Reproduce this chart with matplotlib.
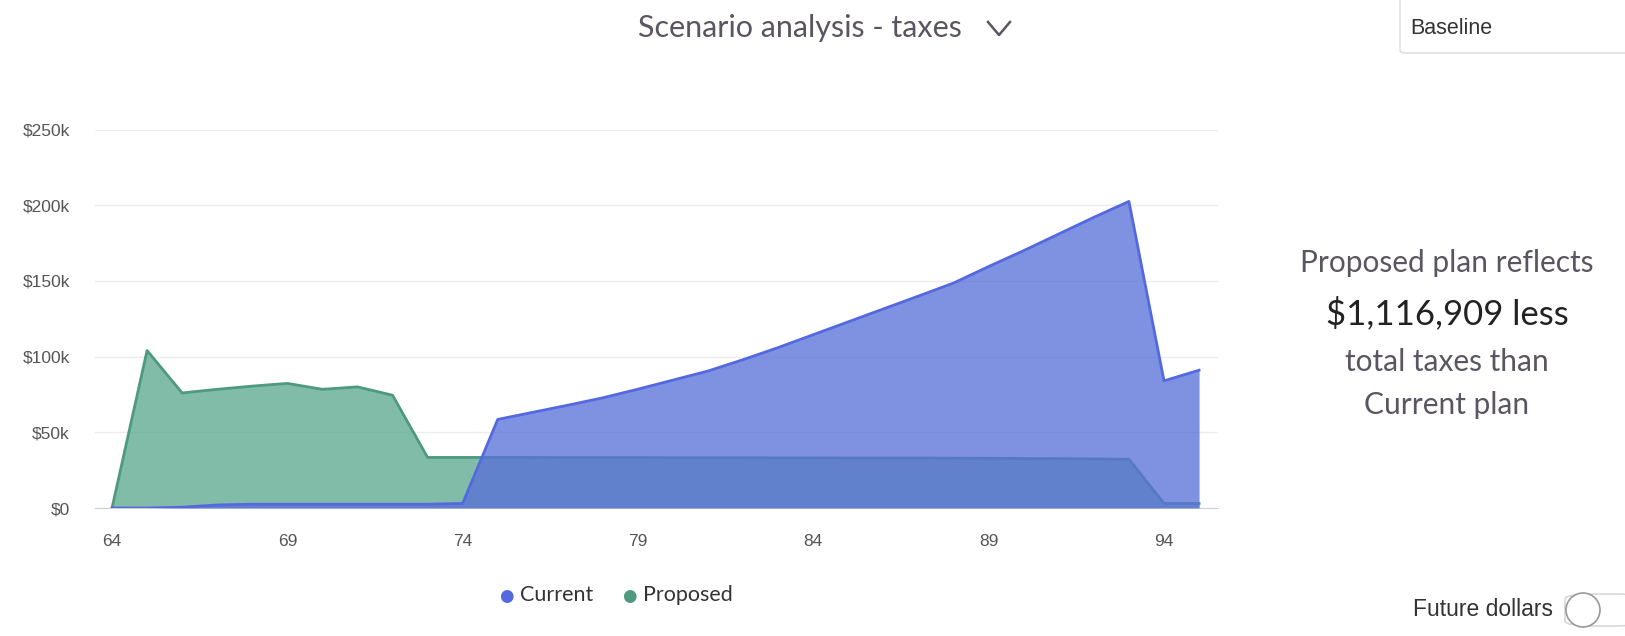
import numpy as np
import matplotlib
matplotlib.use("Agg")
from matplotlib import pyplot as plt
from matplotlib.lines import Line2D
from matplotlib.patches import FancyBboxPatch, Ellipse

# ages and yearly taxes
ages = list(range(64, 96))
current = [0, 0, 500, 2000, 2500, 2500, 2500, 2500, 2500, 2500, 3000,
           58500, 63200, 67900, 72800, 78500, 84500, 90500, 98000, 106000,
           114500, 123000, 131500, 140000, 148600, 159500, 170000, 181000,
           192000, 202500, 84000, 91000]
proposed = [0, 104000, 76000, 78400, 80500, 82300, 78400, 80000, 74500,
            33400, 33400, 33400, 33400, 33300, 33300, 33300, 33200, 33200,
            33200, 33100, 33100, 33000, 33000, 33000, 32900, 32800, 32700,
            32600, 32400, 32200, 3000, 3000]
yticks = [0, 50000, 100000, 150000, 200000, 250000]
ylabels = ['$0', '$50k', '$100k', '$150k', '$200k', '$250k']
xticks = [64, 69, 74, 79, 84, 89, 94]

W, H = 1625, 636
fig = plt.figure(figsize=(W / 100, H / 100), dpi=100)

def fx(x):
    return x / W

def fy(y):
    return 1 - y / H

ax = fig.add_axes([fx(95), fy(508), fx(1218) - fx(95), fy(129.5) - fy(508)])

blue_line = '#5468E0'
blue_fill = '#5970D9'
green_line = '#4E9A7E'
green_fill = '#5AA88E'

ax.fill_between(ages, proposed, color=green_fill, alpha=0.77, lw=0, zorder=2)
ax.plot(ages, proposed, color=green_line, lw=2, zorder=3)
ax.fill_between(ages, current, color=blue_fill, alpha=0.77, lw=0, zorder=4)
ax.plot(ages, current, color=blue_line, lw=2, zorder=5)

ax.set_xlim(63.515, 95.54)
ax.set_ylim(0, 250000)
ax.set_yticks(yticks)
ax.set_yticklabels(ylabels)
ax.set_xticks(xticks)
ax.grid(axis='y', color='#ececec', lw=1, zorder=0)
for s in ['top', 'right', 'left']:
    ax.spines[s].set_visible(False)
ax.spines['bottom'].set_color('#d0d0d8')
ax.tick_params(axis='both', length=0, labelsize=12.5, labelcolor='#555555')
ax.tick_params(axis='x', pad=19)
ax.tick_params(axis='y', pad=18)
for lab in ax.get_xticklabels() + ax.get_yticklabels():
    lab.set_family('Liberation Sans')

# title with dropdown chevron
fig.text(fx(800), fy(28), 'Scenario analysis - taxes', ha='center', va='center',
         fontsize=22, color='#5a5560', family='Lato')
fig.add_artist(Line2D([fx(988), fx(999), fx(1010)], [fy(22), fy(35), fy(22)],
                      color='#5a5560', lw=1.8))

# baseline selector box
fig.add_artist(FancyBboxPatch((fx(1400), fy(53)), fx(240), fy(0) - fy(53) + 0.01,
                              boxstyle='round,pad=0,rounding_size=0.004',
                              fc='white', ec='#dcdcdc', lw=1))
fig.text(fx(1410), fy(28), 'Baseline', ha='left', va='center',
         fontsize=15.5, color='#333333', family='Liberation Sans')

# summary text
tc = '#5a5560'
fig.text(fx(1447), fy(263), 'Proposed plan reflects', ha='center', va='center',
         fontsize=21.5, color=tc, family='Lato')
fig.text(fx(1447), fy(313), '$1,116,909 less', ha='center', va='center',
         fontsize=25, color='#222222', family='Lato')
fig.text(fx(1447), fy(362), 'total taxes than', ha='center', va='center',
         fontsize=21.5, color=tc, family='Lato')
fig.text(fx(1447), fy(405), 'Current plan', ha='center', va='center',
         fontsize=21.5, color=tc, family='Lato')

# legend
fig.text(fx(506), fy(596), '\u25CF', ha='center', va='center', fontsize=12,
         color=blue_line)
fig.text(fx(520), fy(595), 'Current', ha='left', va='center', fontsize=15.5,
         color='#333333', family='Lato')
fig.text(fx(629), fy(596), '\u25CF', ha='center', va='center', fontsize=12,
         color=green_line)
fig.text(fx(643), fy(595), 'Proposed', ha='left', va='center', fontsize=15.5,
         color='#333333', family='Lato')

# future dollars toggle
fig.text(fx(1553), fy(610), 'Future dollars', ha='right', va='center',
         fontsize=16.5, color='#333333', family='Liberation Sans')
fig.add_artist(FancyBboxPatch((fx(1565), fy(626)), fx(80), fy(594) - fy(626),
                              boxstyle='round,pad=0,rounding_size=0.02',
                              fc='white', ec='#d8d8d8', lw=1.2,
                              mutation_aspect=H / W))
fig.add_artist(Ellipse((fx(1583), fy(610)), fx(34), fy(576) - fy(610),
                       fc='white', ec='#999999', lw=1.2))

fig.savefig('out.png', dpi=100, facecolor='white')
